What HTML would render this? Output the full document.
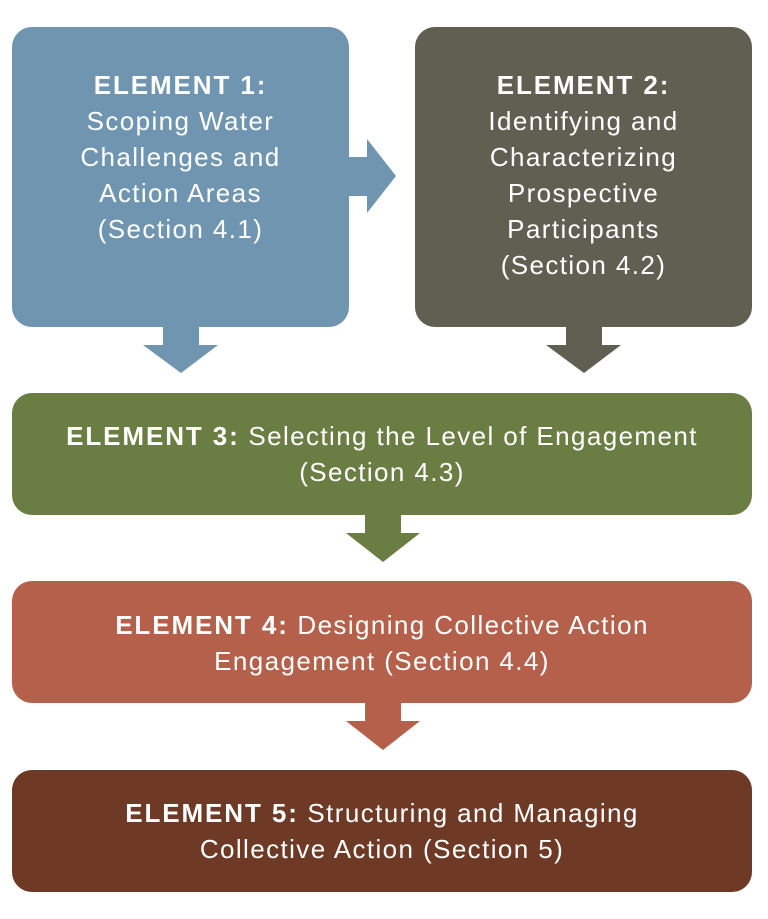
<!DOCTYPE html>
<html><head><style>
body{margin:0;background:#fff;width:768px;height:919px;overflow:hidden}
.t{position:absolute;color:#fff;font-family:"Liberation Sans",sans-serif;font-size:26px;line-height:36px;text-align:center;letter-spacing:1.4px;white-space:nowrap}
b{font-weight:900;letter-spacing:1.9px}
</style></head><body>
<svg width="768" height="919" style="position:absolute;left:0;top:0">
<rect x="12" y="27" width="337" height="300" rx="20" fill="#6f95b0"/>
<rect x="415" y="27" width="337" height="300" rx="20" fill="#5f5f52"/>
<polygon points="349,157 367,157 367,139 396,176 367,213 367,196 349,196" fill="#6f95b0"/>
<polygon points="163,327 199,327 199,345 218,345 181,373 143,345 163,345" fill="#6f95b0"/>
<polygon points="566,327 602,327 602,345 621,345 584,373 546,345 566,345" fill="#5f5f52"/>
<rect x="12" y="393" width="740" height="122" rx="20" fill="#6a7d43"/>
<polygon points="365,515 401,515 401,533 420,533 383,562 346,533 365,533" fill="#6a7d43"/>
<rect x="12" y="581" width="740" height="122" rx="20" fill="#b5604a"/>
<polygon points="365,703 401,703 401,721 420,721 383,750 346,721 365,721" fill="#b5604a"/>
<rect x="12" y="770" width="740" height="122" rx="20" fill="#6e3a26"/>
</svg>
<div class="t" style="left:12px;top:67px;width:337px"><b>ELEMENT 1:</b><br>Scoping Water<br>Challenges and<br>Action Areas<br>(Section 4.1)</div>
<div class="t" style="left:415px;top:67px;width:337px"><b>ELEMENT 2:</b><br>Identifying and<br>Characterizing<br>Prospective<br>Participants<br>(Section 4.2)</div>
<div class="t" style="left:12px;top:418px;width:740px"><b>ELEMENT 3:</b> Selecting the Level of Engagement<br>(Section 4.3)</div>
<div class="t" style="left:12px;top:607px;width:740px"><b>ELEMENT 4:</b> Designing Collective Action<br>Engagement (Section 4.4)</div>
<div class="t" style="left:12px;top:795px;width:740px"><b>ELEMENT 5:</b> Structuring and Managing<br>Collective Action (Section 5)</div>
</body></html>
